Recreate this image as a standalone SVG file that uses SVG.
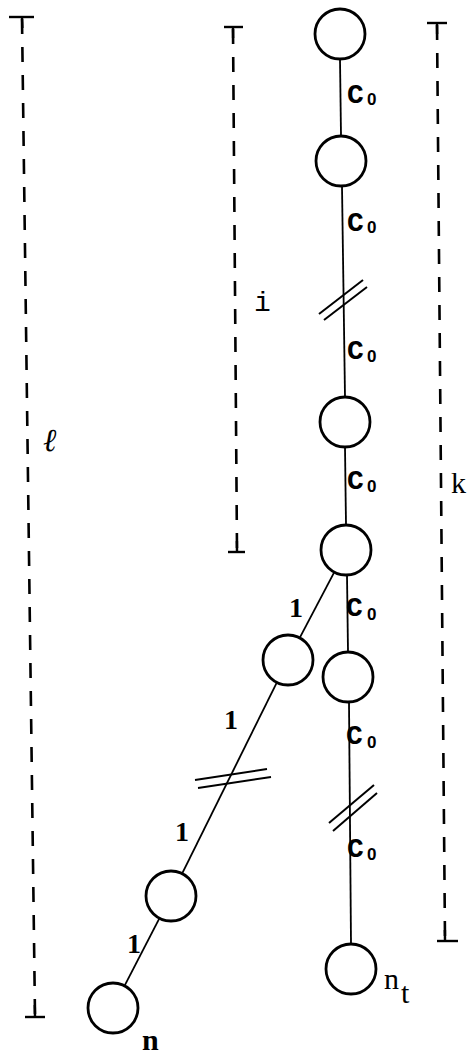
<svg xmlns="http://www.w3.org/2000/svg" width="467" height="1056" viewBox="0 0 467 1056">
<style>
.node{fill:none;stroke:#000;stroke-width:2.8}
.edge{fill:none;stroke:#000;stroke-width:1.8}
.brk{fill:none;stroke:#000;stroke-width:2}
.dim{fill:none;stroke:#000;stroke-width:2.6;stroke-dasharray:15 13}
.bar{fill:none;stroke:#000;stroke-width:2.4}
.c{font-family:"Liberation Mono",monospace;font-size:28px;font-weight:bold}
.s{font-family:"Liberation Sans",sans-serif;font-size:17px;font-weight:bold}
.one{font-family:"Liberation Serif",serif;font-size:28px;font-weight:bold;text-anchor:middle}
.lab{font-family:"Liberation Serif",serif;font-size:30px}
</style>
<rect width="467" height="1056" fill="#fff"/>
<g id="connectors">
<line class="edge" x1="340" y1="59" x2="341" y2="136"/>
<line class="edge" x1="342" y1="186" x2="345" y2="397"/>
<line class="brk" x1="319" y1="314" x2="363" y2="280"/>
<line class="brk" x1="324" y1="320" x2="367" y2="287"/>
<line class="edge" x1="345" y1="447" x2="346" y2="525"/>
<line class="edge" x1="347" y1="575" x2="348" y2="652"/>
<line class="edge" x1="349" y1="702" x2="351" y2="944"/>
<line class="brk" x1="329" y1="823" x2="374" y2="785"/>
<line class="brk" x1="333" y1="831" x2="377" y2="793"/>
<line class="edge" x1="334.3" y1="572.2" x2="299.7" y2="637.8"/>
<line class="edge" x1="276.9" y1="682.4" x2="182.1" y2="873.6"/>
<line class="brk" x1="195" y1="780" x2="267" y2="769"/>
<line class="brk" x1="198" y1="788" x2="271" y2="777"/>
<line class="edge" x1="159.5" y1="918.2" x2="124.5" y2="985.8"/>
</g>
<g id="n1"><circle class="node" cx="340" cy="34" r="25"/></g>
<g id="n2"><circle class="node" cx="341" cy="161" r="25"/></g>
<g id="n3"><circle class="node" cx="345" cy="422" r="25"/></g>
<g id="n4"><circle class="node" cx="346" cy="550" r="25"/></g>
<g id="n5"><circle class="node" cx="348" cy="677" r="25"/></g>
<g id="n6"><circle class="node" cx="288" cy="660" r="25"/></g>
<g id="n7"><circle class="node" cx="171" cy="896" r="25"/></g>
<g id="n8"><circle class="node" cx="113" cy="1008" r="25"/><text class="lab" x="142" y="1050" font-size="28" font-weight="bold">n</text></g>
<g id="n9"><circle class="node" cx="351" cy="969" r="25"/><text class="lab" x="384" y="989" font-size="24">n</text><text class="lab" x="401" y="1003" font-size="26">t</text></g>
<g id="edge-labels">
<text class="c" x="347" y="103">C</text><text class="s" x="367" y="105">0</text>
<text class="c" x="347" y="231">C</text><text class="s" x="367" y="233">0</text>
<text class="c" x="347" y="359">C</text><text class="s" x="367" y="362">0</text>
<text class="c" x="347" y="489">C</text><text class="s" x="367" y="492">0</text>
<text class="c" x="346" y="616">C</text><text class="s" x="367" y="620">0</text>
<text class="c" x="346" y="744">C</text><text class="s" x="367" y="748">0</text>
<text class="c" x="347" y="857">C</text><text class="s" x="367" y="860">0</text>
<text class="one" x="296" y="617">1</text>
<text class="one" x="231" y="729">1</text>
<text class="one" x="182" y="841">1</text>
<text class="one" x="134" y="953">1</text>
</g>
<g id="dim-l">
<line class="dim" x1="22" y1="19" x2="35" y2="1015"/>
<line class="bar" x1="9" y1="17" x2="34" y2="17"/>
<line class="bar" x1="25" y1="1017" x2="45" y2="1017"/>
<line class="bar" x1="22" y1="17" x2="22.4" y2="28"/>
<line class="bar" x1="34.8" y1="1005" x2="35" y2="1017"/>
<text x="43" y="451" font-family="DejaVu Serif,serif" font-size="32" font-style="italic">ℓ</text>
</g>
<g id="dim-i">
<line class="dim" x1="233" y1="29" x2="237" y2="550"/>
<line class="bar" x1="224" y1="27" x2="243" y2="27"/>
<line class="bar" x1="228" y1="552" x2="245" y2="552"/>
<line class="bar" x1="233" y1="27" x2="233.1" y2="38"/>
<line class="bar" x1="236.9" y1="541" x2="237" y2="552"/>
<text x="254" y="311" font-family="Liberation Mono,monospace" font-size="28">i</text>
</g>
<g id="dim-k">
<line class="dim" x1="437" y1="25" x2="445" y2="939"/>
<line class="bar" x1="427" y1="23" x2="447" y2="23"/>
<line class="bar" x1="437" y1="941" x2="458" y2="941"/>
<line class="bar" x1="437" y1="23" x2="437.1" y2="34"/>
<line class="bar" x1="444.9" y1="930" x2="445" y2="941"/>
<text class="lab" x="451" y="493">k</text>
</g>
</svg>
